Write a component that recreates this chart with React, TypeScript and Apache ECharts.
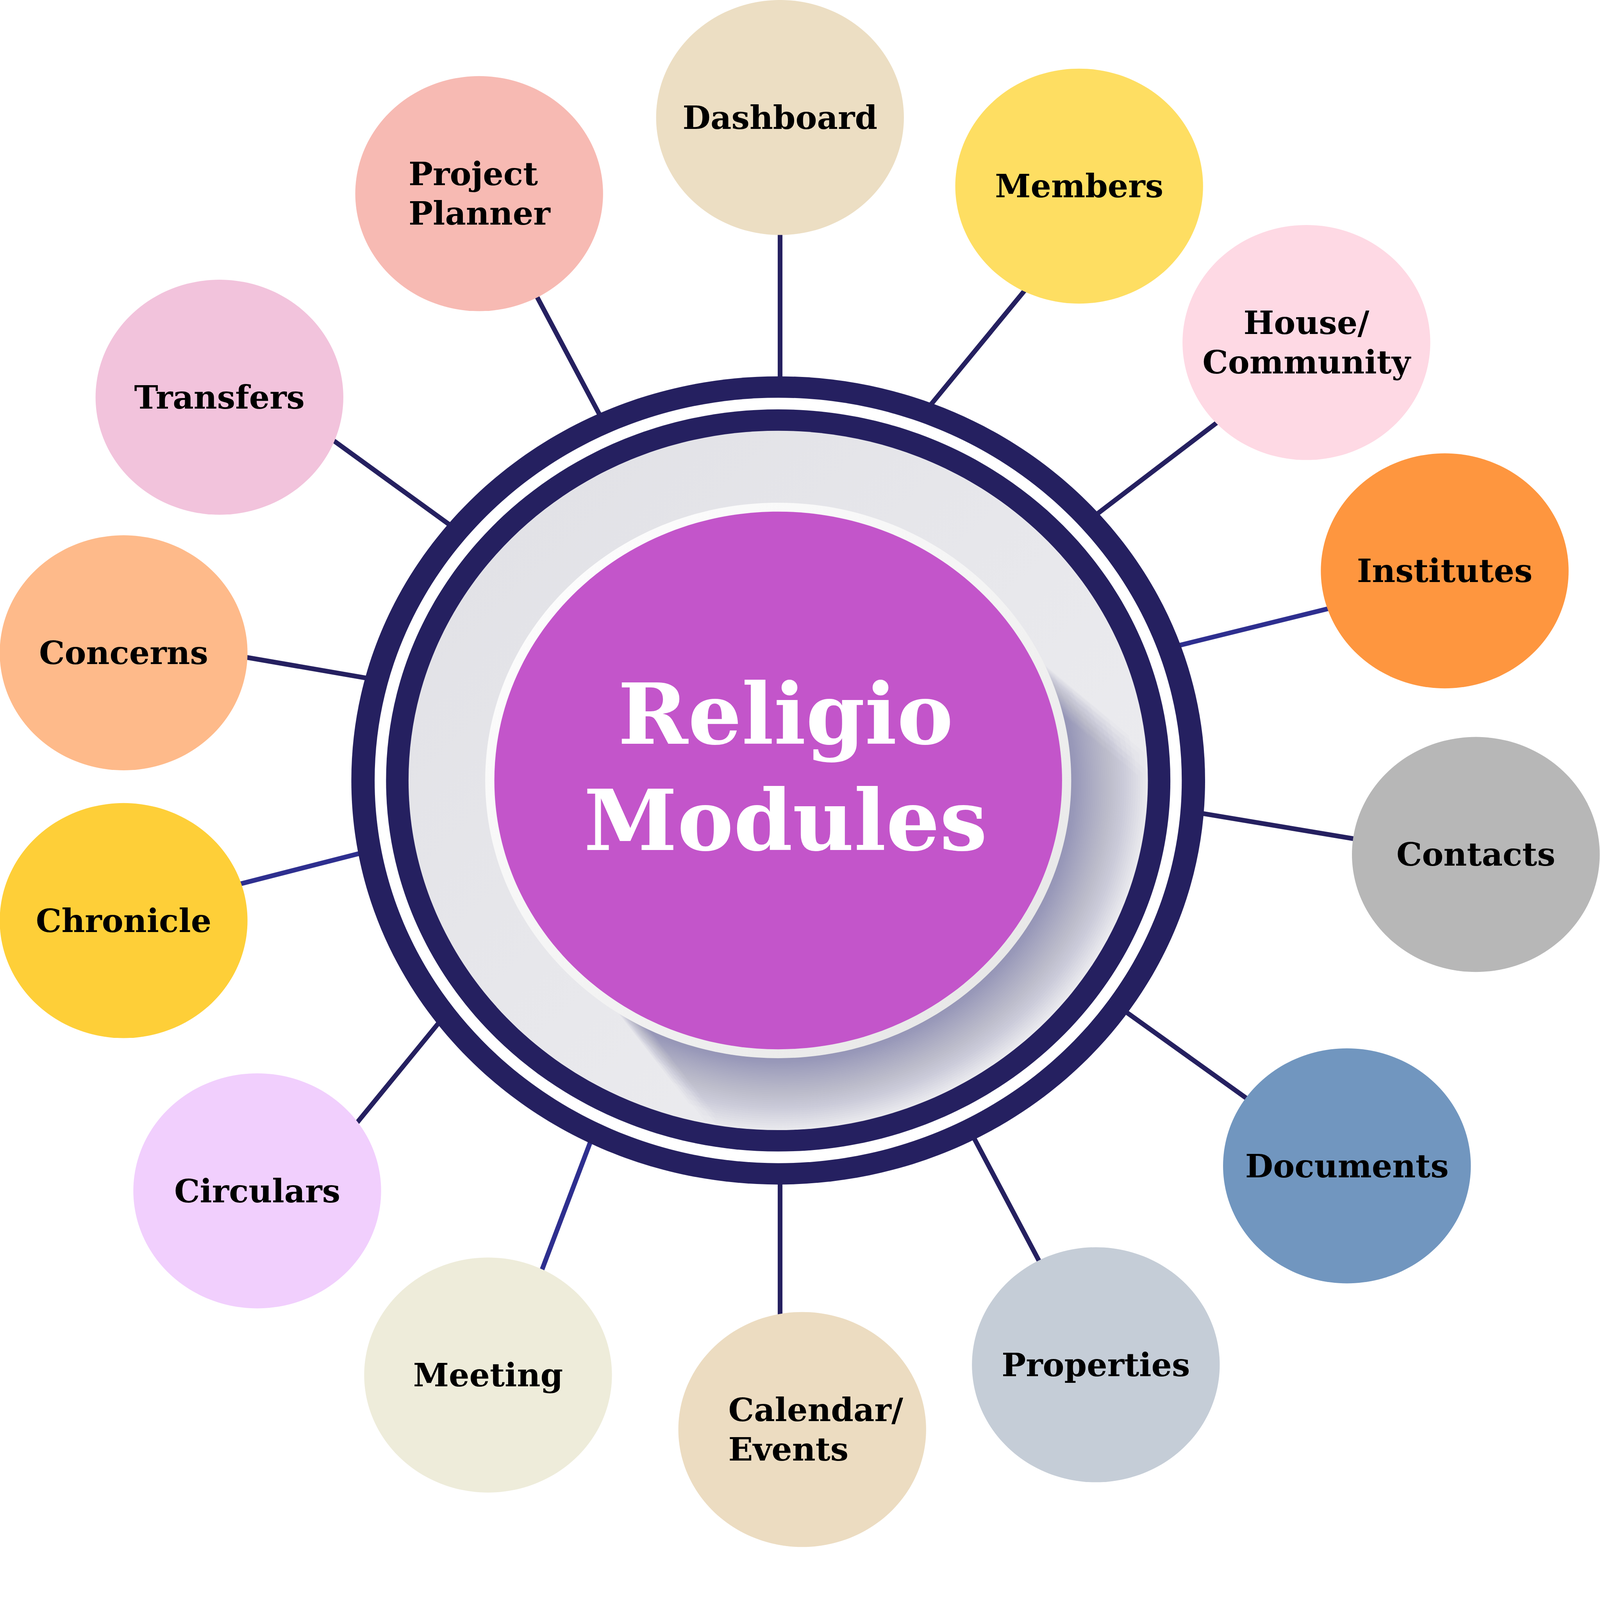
import React, { useEffect, useRef } from "react";
import * as echarts from "echarts";

// design size of the reference; everything below is in these pixels
const W = 5760;
const H = 5570;

// modules around the hub, clockwise from the top
const moduleNames = [
    "Dashboard",
    "Members",
    "House/\nCommunity",
    "Institutes",
    "Contacts",
    "Documents",
    "Properties",
    "Calendar/\nEvents",
    "Meeting",
    "Circulars",
    "Chronicle",
    "Concerns",
    "Transfers",
    "Project\nPlanner",
];
const moduleColors = [
    "#ecdec3", "#fede62", "#fed9e4", "#fe963f", "#b7b7b7", "#7196bf", "#c5cdd7",
    "#ecdcc1", "#eeecda", "#f1cffd", "#fecf38", "#feba8a", "#f2c3dc", "#f7bab3",
];
const moduleX = [2808, 3885, 4703, 5201, 5313, 4849, 3945, 2888, 1757, 926, 445, 445, 790, 1725];
const moduleY = [423, 670, 1233, 2055, 3076, 4197, 4913, 5146, 4950, 4287, 3314, 2350, 1430, 697];
// left-aligned two-line labels (block offset from bubble centre)
const labelShift = [0, 0, 0, 0, 0, 0, 0, -266, 0, 0, 0, 0, 0, -254];

// connector: bubble side -> ring side
const connectorFrom = [
    [2808, 845], [3687, 1048], [4380, 1522], [4778, 2192], [4872, 3019], [4485, 3952], [3740, 4538],
    [2808, 4730], [1950, 4574], [1285, 4042], [869, 3181], [891, 2367], [1205, 1589], [1934, 1070],
];
const connectorTo = [
    [2808, 1354], [3354, 1453], [3955, 1846], [4250, 2322], [4332, 2929], [4058, 3646], [3507, 4098],
    [2808, 4261], [2125, 4112], [1573, 3690], [1292, 3073], [1314, 2440], [1617, 1888], [2156, 1488],
];
const connectorColors = [
    "#252060", "#252060", "#252060", "#2e2f8f", "#252060", "#252060", "#252060",
    "#252060", "#2e2f8f", "#252060", "#2e2f8f", "#252060", "#252060", "#252060",
];

const centerTitle = "Religio\nModules";

const CX = 2802;
const CY = 2810;
const DEG = Math.PI / 180;

const App = () => {
    const chartRef = useRef<HTMLDivElement>(null);

    useEffect(() => {
        if (!chartRef.current) return;
        const chart = echarts.init(chartRef.current, null, { renderer: "svg" });
        const k = chart.getWidth() / W;
        const ky = chart.getHeight() / H;

        // push the connectors a bit under the bubble and into the ring
        const lineData = connectorFrom.map((from, i) => {
            const to = connectorTo[i];
            const dx = to[0] - from[0];
            const dy = to[1] - from[1];
            const len = Math.hypot(dx, dy);
            const ux = dx / len;
            const uy = dy / len;
            return {
                coords: [
                    [from[0] - ux * 60, from[1] - uy * 60],
                    [to[0] + ux * 120, to[1] + uy * 120],
                ],
                lineStyle: { color: connectorColors[i] },
            };
        });

        const bubbleData = moduleNames.map((name, i) => {
            const item: any = {
                name,
                value: [moduleX[i], moduleY[i]],
                itemStyle: { color: moduleColors[i] },
            };
            if (labelShift[i]) {
                item.label = { align: "left", offset: [labelShift[i] * k, 0] };
            }
            return item;
        });

        // long shadow of the purple disc, swept down-right to the grey plate edge.
        // stacked translucent sweeps: fades with distance and a little towards both ends
        const shadow: any[] = [];
        const bx = 1045, by = 990;
        const gx = 1331, gy = 1259;
        const t1 = -26.4 * DEG;
        const t2 = 125 * DEG;
        const bands = 40;
        const steps = 60;
        for (let b = 0; b < bands; b++) {
            const f = Math.pow((b + 1) / bands, 1.1);
            const u = (((b * 17) % bands) + 0.5) / bands;
            const ta = t1 + u * 12 * DEG;
            const tb = t2 - u * 8 * DEG;
            const inner: number[][] = [];
            const outer: number[][] = [];
            for (let i = 0; i <= steps; i++) {
                const t = ta + ((tb - ta) * i) / steps;
                const px = bx * Math.cos(t);
                const py = by * Math.sin(t);
                const a = (40 + (12 * (t - t1)) / (t2 - t1)) * DEG;
                const dx = Math.cos(a);
                const dy = Math.sin(a);
                const qa = (dx * dx) / (gx * gx) + (dy * dy) / (gy * gy);
                const qb = 2 * ((px * dx) / (gx * gx) + (py * dy) / (gy * gy));
                const qc = (px * px) / (gx * gx) + (py * py) / (gy * gy) - 1;
                const s = (-qb + Math.sqrt(qb * qb - 4 * qa * qc)) / (2 * qa);
                inner.push([CX + px, CY + py]);
                outer.push([CX + px + f * s * dx, CY + py + f * s * dy]);
            }
            shadow.push({
                type: "polygon",
                z: 11,
                silent: true,
                shape: { points: inner.concat(outer.reverse()) },
                style: { fill: "rgba(112,114,130,0.018)" },
            });
        }

        const ellipse = (rx: number, ry: number, fill: any, z: number) => ({
            type: "ellipse",
            z,
            silent: true,
            shape: { cx: CX, cy: CY, rx, ry },
            style: { fill },
        });

        const option = {
            animation: false,
            grid: { left: 0, right: 0, top: 0, bottom: 0 },
            xAxis: { type: "value", min: 0, max: W, show: false },
            yAxis: { type: "value", min: 0, max: H, inverse: true, show: false },
            series: [
                {
                    type: "lines",
                    coordinateSystem: "cartesian2d",
                    z: 1,
                    silent: true,
                    lineStyle: { width: 17 * k, opacity: 1, curveness: 0 },
                    data: lineData,
                },
                {
                    type: "scatter",
                    z: 3,
                    clip: false,
                    symbol: "circle",
                    symbolSize: [892 * k, 846 * ky],
                    itemStyle: { opacity: 1 },
                    emphasis: { disabled: true },
                    label: {
                        show: true,
                        position: "inside",
                        formatter: (p: any) => p.name,
                        color: "#000",
                        fontFamily: "DejaVu Serif",
                        fontWeight: "bold",
                        fontSize: 116 * k,
                        lineHeight: 142 * k,
                    },
                    data: bubbleData,
                },
            ],
            graphic: {
                elements: [
                    {
                        type: "group",
                        z: 10,
                        scaleX: k,
                        scaleY: ky,
                        silent: true,
                        children: [
                            ellipse(1537, 1455, "#252060", 10),
                            ellipse(1453, 1378, "#ffffff", 10),
                            ellipse(1412, 1336, "#252060", 10),
                            ellipse(
                                1331,
                                1259,
                                new echarts.graphic.LinearGradient(0, 0, 1, 1, [
                                    { offset: 0, color: "#e0e0e5" },
                                    { offset: 1, color: "#efeff2" },
                                ]),
                                10
                            ),
                            ...shadow,
                            ellipse(
                                1055,
                                1000,
                                new echarts.graphic.LinearGradient(0, 0, 1, 1, [
                                    { offset: 0, color: "#ffffff" },
                                    { offset: 0.5, color: "#f4f4f4" },
                                    { offset: 1, color: "#e3e3e3" },
                                ]),
                                12
                            ),
                            ellipse(1022, 968, "#c355ca", 13),
                            {
                                type: "text",
                                z: 14,
                                silent: true,
                                x: 2828,
                                y: 2762,
                                style: {
                                    text: centerTitle,
                                    fill: "#ffffff",
                                    fontFamily: "DejaVu Serif",
                                    fontWeight: "bold",
                                    fontSize: 304,
                                    lineHeight: 383,
                                    align: "center",
                                    verticalAlign: "middle",
                                },
                            },
                        ],
                    },
                ],
            },
        };

        chart.setOption(option);
        return () => chart.dispose();
    }, []);

    return (
        <div
            ref={chartRef}
            style={{
                position: "fixed",
                left: 0,
                top: 0,
                width: "100vw",
                height: "calc(100vw * 5570 / 5760)",
            }}
        />
    );
};

export default App;
